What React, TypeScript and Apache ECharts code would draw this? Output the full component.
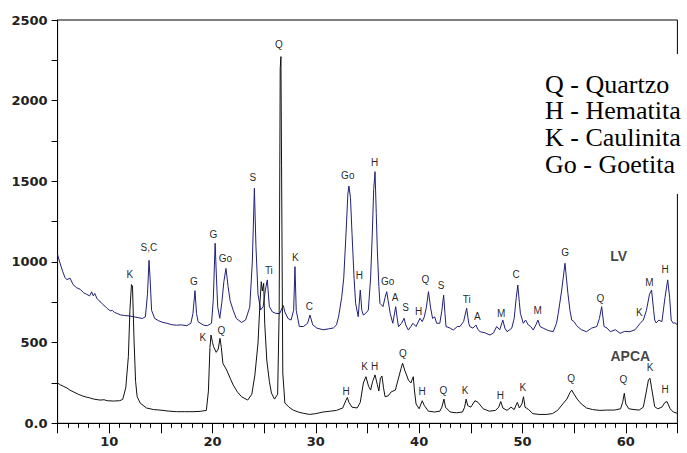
import React, { useEffect, useRef } from "react";
import * as echarts from "echarts";

// 2θ (degrees) vs intensity (counts)
const lvSeries: [number, number][] = [
  [5.0, 1045], [5.2, 1000], [5.5, 940], [5.7, 905], [5.9, 890], [6.2, 900], [6.5, 860], [6.85, 840],
  [7.2, 830], [7.5, 810], [7.8, 800], [8.1, 790], [8.3, 815], [8.45, 790], [8.6, 805], [8.8, 775],
  [9.0, 760], [9.2, 750], [9.4, 735], [9.6, 725], [9.8, 712], [10.1, 697], [10.3, 700], [10.5, 688],
  [10.8, 680], [11.1, 672], [11.5, 668], [12.0, 665], [12.4, 660], [12.8, 655], [13.2, 650],
  [13.5, 660], [13.7, 800], [13.85, 1010], [13.95, 900], [14.1, 700], [14.4, 650], [14.8, 635],
  [15.2, 625], [15.6, 620], [16.0, 612], [16.5, 608], [17.0, 610], [17.5, 605], [17.9, 620],
  [18.1, 680], [18.3, 822], [18.45, 680], [18.6, 630], [19.1, 609], [19.5, 605], [19.9, 620],
  [20.07, 765], [20.25, 1116], [20.38, 900], [20.5, 720], [20.7, 651], [20.9, 750], [21.1, 880],
  [21.3, 960], [21.5, 850], [21.7, 760], [22.0, 700], [22.3, 650], [22.8, 625], [23.2, 640],
  [23.6, 720], [23.85, 1000], [24.05, 1457], [24.2, 1100], [24.4, 800], [24.65, 703], [24.9, 723],
  [25.1, 820], [25.3, 889], [25.5, 723], [25.8, 690], [26.1, 682], [26.5, 680], [26.85, 730],
  [27.0, 690], [27.3, 650], [27.6, 640], [27.85, 700], [27.98, 971], [28.1, 700], [28.4, 600],
  [28.8, 600], [29.2, 620], [29.43, 671], [29.7, 610], [30.1, 590], [30.7, 580], [31.2, 585],
  [31.7, 591], [32.0, 610], [32.2, 660], [32.5, 780], [32.7, 900], [32.9, 1150], [33.1, 1420],
  [33.2, 1471], [33.35, 1400], [33.5, 1178], [33.7, 900], [33.85, 744], [34.1, 661], [34.3, 826],
  [34.45, 700], [34.6, 671], [34.8, 680], [35.08, 702], [35.3, 900], [35.45, 1150], [35.6, 1450],
  [35.73, 1560], [35.85, 1300], [35.95, 1075], [36.1, 850], [36.2, 744], [36.5, 723], [36.7, 780],
  [36.86, 816], [37.0, 760], [37.2, 680], [37.45, 620], [37.73, 723], [37.9, 640], [38.0, 599],
  [38.3, 620], [38.54, 651], [38.7, 610], [38.96, 578], [39.2, 600], [39.4, 620], [39.7, 600],
  [40.08, 651], [40.3, 630], [40.5, 660], [40.7, 720], [40.9, 816], [41.1, 720], [41.3, 650],
  [41.5, 660], [41.7, 620], [42.0, 620], [42.2, 700], [42.37, 795], [42.5, 680], [42.6, 600],
  [43.0, 590], [43.3, 578], [43.7, 600], [43.95, 600], [44.3, 630], [44.6, 713], [44.8, 620],
  [44.9, 600], [45.2, 590], [45.5, 609], [45.7, 580], [45.9, 568], [46.4, 560], [46.86, 547],
  [47.2, 560], [47.5, 600], [47.8, 580], [48.1, 640], [48.3, 590], [48.5, 568], [48.96, 589],
  [49.2, 650], [49.4, 780], [49.55, 857], [49.7, 750], [49.8, 682], [50.08, 620], [50.3, 640],
  [50.56, 610], [50.8, 600], [51.05, 578], [51.3, 610], [51.5, 640], [51.7, 600], [52.0, 590],
  [52.5, 575], [52.98, 568], [53.3, 620], [53.47, 682], [53.8, 826], [54.12, 992], [54.4, 806],
  [54.6, 700], [54.77, 640], [55.0, 630], [55.25, 605], [55.7, 580], [56.2, 568], [56.7, 590],
  [57.2, 600], [57.45, 650], [57.67, 723], [57.9, 600], [58.2, 590], [58.5, 568], [59.0, 580],
  [59.45, 558], [59.9, 570], [60.4, 568], [60.9, 580], [61.4, 620], [61.7, 640], [62.0, 700],
  [62.3, 800], [62.5, 826], [62.7, 700], [62.8, 640], [62.95, 622], [63.2, 640], [63.5, 630],
  [63.8, 780], [64.06, 889], [64.25, 780], [64.4, 640], [64.6, 620], [64.77, 623], [65.0, 610],
];

const apcaSeries: [number, number][] = [
  [5.0, 250], [5.3, 237], [5.6, 228], [5.9, 219], [6.2, 205], [6.5, 196], [7.0, 180], [7.4, 170],
  [7.8, 162], [8.1, 158], [8.5, 150], [9.1, 144], [9.5, 146], [9.8, 140], [10.4, 138], [11.0, 140],
  [11.3, 148], [11.6, 220], [11.85, 413], [12.0, 700], [12.15, 860], [12.25, 850], [12.4, 516],
  [12.55, 260], [12.7, 165], [13.0, 125], [13.6, 95], [14.3, 85], [14.9, 82], [15.7, 76],
  [16.5, 72], [17.3, 72], [18.1, 72], [18.8, 74], [19.4, 80], [19.6, 200], [19.75, 470],
  [19.85, 547], [20.0, 500], [20.1, 475], [20.35, 440], [20.55, 460], [20.72, 527], [20.85, 470],
  [21.0, 372], [21.37, 330], [21.7, 280], [22.0, 237], [22.4, 195], [22.8, 165], [23.4, 144],
  [23.8, 180], [24.1, 300], [24.4, 497], [24.6, 760], [24.72, 878], [24.82, 820], [24.95, 868],
  [25.05, 620], [25.25, 392], [25.5, 260], [25.7, 188], [26.0, 150], [26.3, 180], [26.45, 700],
  [26.55, 2200], [26.62, 2273], [26.68, 1600], [26.8, 312], [27.0, 126], [27.4, 100], [27.8, 82],
  [28.3, 70], [28.8, 62], [29.4, 55], [30.0, 60], [30.7, 70], [31.4, 75], [32.0, 80], [32.6, 95],
  [32.9, 140], [33.05, 160], [33.2, 130], [33.5, 100], [34.0, 95], [34.3, 130], [34.6, 250],
  [34.85, 289], [35.1, 230], [35.3, 206], [35.5, 260], [35.73, 300], [35.95, 240], [36.1, 200],
  [36.25, 280], [36.4, 293], [36.55, 220], [36.7, 165], [37.0, 170], [37.3, 195], [37.7, 206],
  [38.0, 280], [38.25, 340], [38.4, 372], [38.6, 330], [38.96, 268], [39.2, 250], [39.43, 289],
  [39.55, 200], [39.7, 120], [40.0, 90], [40.3, 140], [40.5, 110], [40.9, 75], [41.5, 70],
  [42.0, 75], [42.2, 100], [42.4, 150], [42.55, 100], [43.0, 70], [43.6, 65], [44.2, 70],
  [44.4, 100], [44.55, 150], [44.7, 110], [45.0, 100], [45.4, 140], [45.7, 130], [46.2, 90],
  [46.8, 75], [47.4, 80], [47.7, 100], [47.9, 135], [48.1, 95], [48.5, 80], [48.9, 100],
  [49.2, 85], [49.5, 130], [49.7, 95], [49.95, 120], [50.1, 165], [50.25, 100], [50.6, 85],
  [51.0, 60], [51.6, 55], [52.3, 55], [52.9, 60], [53.4, 80], [53.9, 120], [54.3, 150],
  [54.6, 190], [54.77, 206], [55.0, 180], [55.3, 150], [55.7, 120], [56.2, 95], [56.8, 85],
  [57.5, 80], [58.2, 82], [58.9, 82], [59.5, 90], [59.7, 130], [59.86, 186], [60.0, 120],
  [60.3, 90], [60.8, 85], [61.3, 82], [61.7, 100], [62.0, 200], [62.2, 270], [62.35, 279],
  [62.5, 220], [62.8, 103], [63.1, 90], [63.5, 100], [63.8, 130], [64.0, 134], [64.3, 90],
  [64.6, 70], [65.0, 62],
];

// phase labels: [text, 2θ, intensity] (text centre)
const lvPeakLabels: [string, number, number][] = [
  ["S,C", 13.88, 1085], ["G", 18.24, 878], ["G", 20.14, 1168], ["Go", 21.3, 1017],
  ["S", 23.95, 1519], ["Ti", 25.5, 944], ["Q", 26.46, 2345], ["K", 28.05, 1023],
  ["C", 29.43, 719], ["Go", 33.14, 1533], ["H", 34.27, 915], ["H", 35.73, 1612],
  ["Go", 37.0, 878], ["A", 37.73, 775], ["S", 38.73, 713], ["H", 40.0, 692],
  ["Q", 40.66, 888], ["S", 42.18, 851], ["Ti", 44.66, 764], ["A", 45.67, 661],
  ["M", 47.99, 676], ["C", 49.44, 919], ["M", 51.53, 696], ["G", 54.18, 1054],
  ["Q", 57.6, 770], ["K", 61.37, 682], ["M", 62.35, 872], ["H", 63.87, 950],
];

const apcaPeakLabels: [string, number, number][] = [
  ["K", 12.04, 920], ["K", 19.1, 531], ["Q", 20.9, 572], ["H", 32.98, 196],
  ["K", 34.76, 351], ["H", 35.73, 351], ["Q", 38.47, 430], ["H", 40.34, 196],
  ["Q", 42.4, 202], ["K", 44.5, 202], ["H", 47.92, 169], ["K", 50.08, 217],
  ["Q", 54.77, 273], ["Q", 59.83, 268], ["K", 62.41, 341], ["H", 63.87, 206],
];

const sampleNames: [string, number, number][] = [
  ["LV", 59.37, 1037],
  ["APCA", 60.49, 411],
];

const legendLines = ["Q - Quartzo", "H - Hematita", "K - Caulinita", "Go - Goetita"];

export default function App() {
  const ref = useRef<HTMLDivElement>(null);
  useEffect(() => {
    const chart = echarts.init(ref.current!, null, { renderer: "svg" });
    const axisFont = { fontFamily: "DejaVu Sans", fontWeight: "bold" as const, fontSize: 13, color: "#222" };
    const toItems = (arr: [string, number, number][]) =>
      arr.map((l) => ({ name: l[0], value: [l[1], l[2]] }));
    const labelSeries = (arr: [string, number, number][], font: any) => ({
      type: "scatter",
      data: toItems(arr),
      symbolSize: 1,
      itemStyle: { color: "rgba(255,255,255,0)" },
      silent: true,
      z: 5,
      label: {
        show: true,
        position: [0, 0],
        align: "center",
        verticalAlign: "middle",
        formatter: "{b}",
        textBorderWidth: 0,
        ...font,
      },
    });
    chart.setOption({
      animation: false,
      backgroundColor: "#fff",
      grid: { left: 57.6, right: 9.6, top: 20, bottom: 29.7, show: true, borderColor: "#000", borderWidth: 1 },
      xAxis: {
        type: "value",
        min: 5,
        max: 65,
        interval: 5,
        axisLine: { show: true, lineStyle: { color: "#000", width: 1 } },
        axisTick: { show: true, length: 10, lineStyle: { color: "#000" } },
        minorTick: { show: true, splitNumber: 5, length: 4.5, lineStyle: { color: "#000" } },
        splitLine: { show: false },
        axisLabel: {
          ...axisFont,
          margin: 12,
          formatter: (v: number) => (v % 10 === 0 ? String(v) : ""),
        },
      },
      yAxis: {
        type: "value",
        min: 0,
        max: 2500,
        interval: 250,
        axisLine: { show: true, lineStyle: { color: "#000", width: 1 } },
        axisTick: { show: true, length: 6, lineStyle: { color: "#000" } },
        splitLine: { show: false },
        axisLabel: {
          ...axisFont,
          margin: 10,
          formatter: (v: number) => (v === 0 ? "0.0" : v % 500 === 0 ? String(v) : ""),
        },
      },
      series: [
        {
          type: "line",
          name: "LV",
          data: lvSeries,
          showSymbol: false,
          symbol: "none",
          lineStyle: { color: "#20207a", width: 1 },
          z: 2,
        },
        {
          type: "line",
          name: "APCA",
          data: apcaSeries,
          showSymbol: false,
          symbol: "none",
          lineStyle: { color: "#111", width: 1 },
          z: 3,
        },
        labelSeries([...lvPeakLabels, ...apcaPeakLabels], {
          fontFamily: "Liberation Sans",
          fontSize: 10,
          color: "#222",
          opacity: 0.99,
        }),
        labelSeries(sampleNames, {
          fontFamily: "Liberation Sans",
          fontWeight: "bold",
          fontSize: 14,
          color: "#111",
        }),
      ],
      graphic: [
        {
          type: "rect",
          z: 100,
          shape: { x: 600, y: 54, width: 87, height: 140 },
          style: { fill: "#fff" },
          silent: true,
        },
        ...legendLines.map((t, i) => ({
          type: "text",
          z: 101,
          x: 545,
          y: 84 + i * 26.8,
          silent: true,
          style: {
            text: t,
            font: '26px "Liberation Serif"',
            fill: "#000",
            verticalAlign: "middle",
            align: "left",
          },
        })),
      ],
    });
    return () => chart.dispose();
  }, []);
  return (
    <div
      ref={ref}
      style={{ position: "fixed", left: 0, top: 0, width: 687, height: 453, background: "#fff" }}
    />
  );
}
